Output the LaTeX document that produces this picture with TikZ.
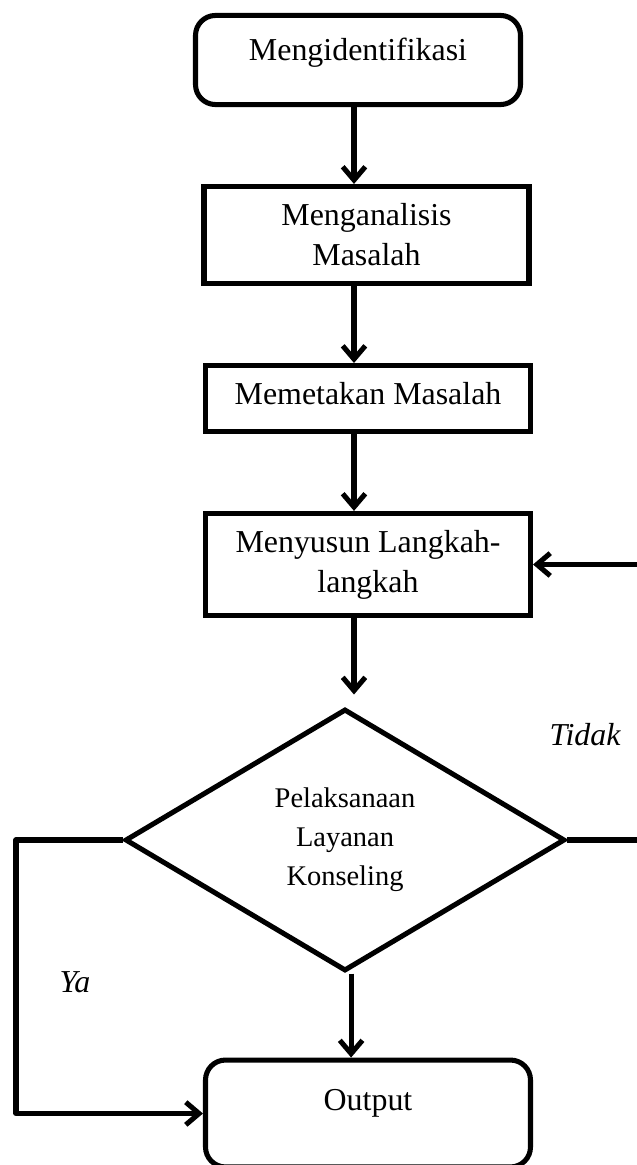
\documentclass[tikz,border=0pt]{standalone}
\usepackage{fontspec}
\setmainfont{Liberation Serif}
\usetikzlibrary{shapes.geometric,arrows.meta}
\tikzstyle{kotak} = [draw, line width=1.9pt, align=center, font=\fontsize{12}{15}\selectfont, minimum width=122.2pt, inner sep=2pt]
\tikzstyle{bulat} = [kotak, rounded corners=7.5pt]
\tikzstyle{keputusan} = [draw, diamond, line width=1.9pt, align=center, font=\fontsize{10.7}{14.7}\selectfont, minimum width=165.4pt, minimum height=98.5pt, aspect=1.68, inner sep=0pt]
\tikzstyle{panah} = [line width=1.9pt, line join=round, -{Straight Barb[length=5pt,width=8.5pt]}]
\tikzstyle{ket} = [font=\fontsize{12}{15}\selectfont\itshape, anchor=base]

\begin{document}
\begin{tikzpicture}[x=0.376pt, y=-0.376pt]
	\useasboundingbox (0,0) rectangle (637,1165);
	\clip (0,0) rectangle (637,1165);
	\node[bulat, minimum height=33.5pt, text depth=8pt] (ident) at (358,60) {Mengidentifikasi};
	\node[kotak, minimum height=36.5pt] (analisis) at (366.5,235) {Menganalisis\\Masalah};
	\node[kotak, minimum height=24.8pt, text depth=4pt] (petakan) at (368,398.5) {Memetakan Masalah};
	\node[kotak, minimum height=38.4pt] (susun) at (368,564.5) {Menyusun Langkah-\\langkah};
	\node[keputusan] (layanan) at (345,840) {Pelaksanaan\\Layanan\\Konseling};
	\node[bulat, minimum height=40.2pt, text depth=10pt] (output) at (368,1113.5) {Output};
	\coordinate (poros) at (354,0);
	\coordinate (kanan) at (641,0);
	\coordinate (kiri) at (16,0);
	\draw[panah] (ident.south -| poros) -- (analisis.north -| poros);
	\draw[panah] (analisis.south -| poros) -- (petakan.north -| poros);
	\draw[panah] (petakan.south -| poros) -- (susun.north -| poros);
	\draw[panah, shorten >=4.5pt] (susun.south -| poros) -- (layanan.north -| poros);
	\draw[panah] ([xshift=2.3pt]layanan.south) -- ([xshift=2.3pt]layanan.south |- output.north);
	\draw[panah] (layanan.east) -- (layanan.east -| kanan) |- (susun.east);
	\draw[panah] (layanan.west) -- (layanan.west -| kiri) |- (output.west);
	\node[ket] (tidak) at (585,745) {Tidak};
	\node[ket] (ya) at (75,992) {Ya};
\end{tikzpicture}
\end{document}
